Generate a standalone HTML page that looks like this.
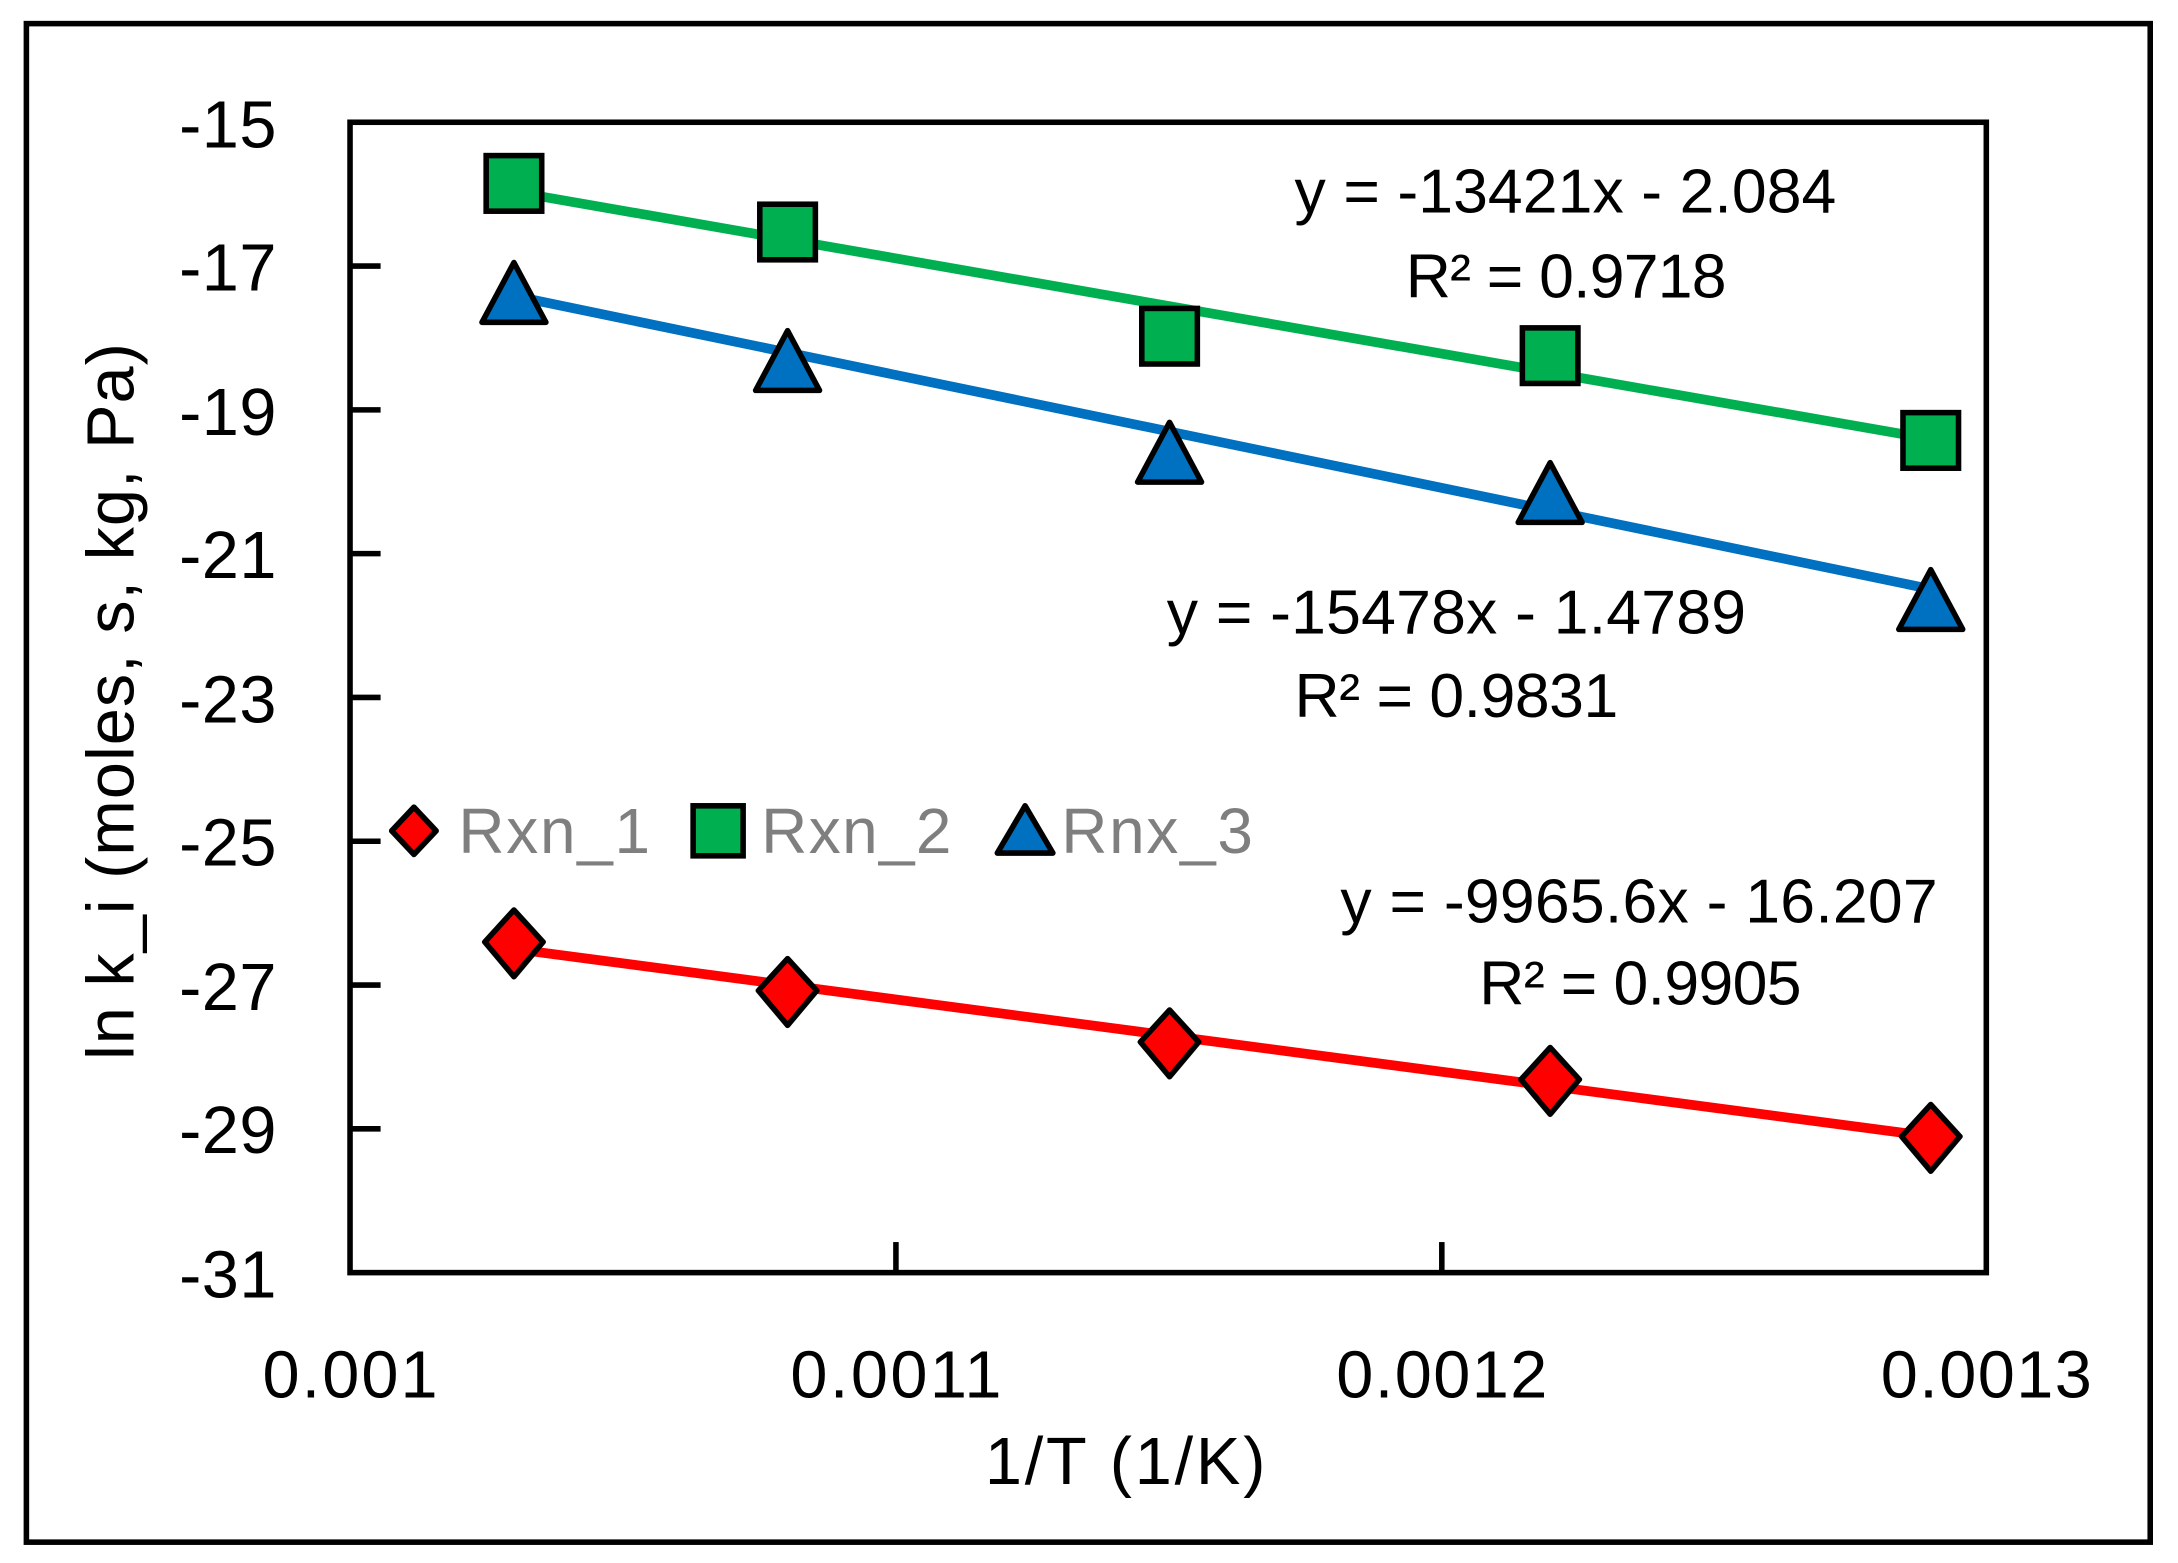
<!DOCTYPE html>
<html><head><meta charset="utf-8"><style>html,body{margin:0;padding:0;background:#fff}svg{display:block}text{font-family:"Liberation Sans",sans-serif;fill:#000}</style></head>
<body>
<svg width="2178" height="1563" viewBox="0 0 1568 1125" preserveAspectRatio="none">
<rect x="0" y="0" width="1568" height="1125" fill="#fff"/>
<rect x="19" y="17" width="1529" height="1093" fill="none" stroke="#000" stroke-width="4"/>
<rect x="252" y="88" width="1178" height="828" fill="none" stroke="#000" stroke-width="4"/>
<g stroke="#000" stroke-width="4">
<line x1="252" y1="191.5" x2="274" y2="191.5"/><line x1="252" y1="295" x2="274" y2="295"/><line x1="252" y1="398.5" x2="274" y2="398.5"/><line x1="252" y1="502" x2="274" y2="502"/><line x1="252" y1="605.5" x2="274" y2="605.5"/><line x1="252" y1="709" x2="274" y2="709"/><line x1="252" y1="812.5" x2="274" y2="812.5"/>
<line x1="645" y1="916" x2="645" y2="894"/><line x1="1038" y1="916" x2="1038" y2="894"/>
</g>
<g font-size="48" text-anchor="end">
<text x="199" y="106" textLength="70">-15</text><text x="199" y="209" textLength="70">-17</text><text x="199" y="313" textLength="70">-19</text><text x="199" y="416" textLength="70">-21</text><text x="199" y="520" textLength="70">-23</text><text x="199" y="623" textLength="70">-25</text><text x="199" y="727" textLength="70">-27</text><text x="199" y="830" textLength="70">-29</text><text x="199" y="934" textLength="70">-31</text>
</g>
<g font-size="48" text-anchor="middle">
<text x="252" y="1006" textLength="126">0.001</text><text x="645" y="1006" textLength="152">0.0011</text><text x="1038" y="1006" textLength="152">0.0012</text><text x="1430" y="1006" textLength="152">0.0013</text>
<text x="810" y="1068" textLength="202">1/T (1/K)</text>
<text transform="translate(96,505) rotate(-90)" textLength="516">ln k_i (moles, s, kg, Pa)</text>
</g>
<line x1="370" y1="138" x2="1390" y2="316" stroke="#00b050" stroke-width="7"/>
<line x1="370" y1="213" x2="1390" y2="424" stroke="#0070c0" stroke-width="7"/>
<line x1="370" y1="683" x2="1390" y2="818" stroke="#ff0000" stroke-width="7"/>
<g fill="#00b050" stroke="#000" stroke-width="4">
<rect x="350" y="112" width="40" height="40"/><rect x="547" y="147" width="40" height="40"/><rect x="822" y="222" width="40" height="40"/><rect x="1096" y="236" width="40" height="40"/><rect x="1370" y="297" width="40" height="40"/>
<rect x="499" y="580" width="36" height="36"/>
</g>
<g fill="#0070c0" stroke="#000" stroke-width="4" stroke-linejoin="round">
<polygon points="370,189 347,232 393,232"/><polygon points="567,238 544,281 590,281"/><polygon points="842,304 819,347 865,347"/><polygon points="1116,333 1093,376 1139,376"/><polygon points="1390,410 1367,453 1413,453"/>
<polygon points="738,580 718,614 758,614"/>
</g>
<g fill="#ff0000" stroke="#000" stroke-width="4" stroke-linejoin="round">
<polygon points="370,655 391,678 370,703 349,678"/><polygon points="567,690 588,713 567,738 546,713"/><polygon points="842,727 863,750 842,775 821,750"/><polygon points="1116,754 1137,777 1116,802 1095,777"/><polygon points="1390,795 1411,818 1390,843 1369,818"/>
<polygon points="298,581 314,598 298,615 282,598"/>
</g>
<g font-size="46">
<text x="330" y="614" textLength="138" style="fill:#7f7f7f">Rxn_1</text>
<text x="548" y="614" textLength="137" style="fill:#7f7f7f">Rxn_2</text>
<text x="764" y="614" textLength="138" style="fill:#7f7f7f">Rnx_3</text>
</g>
<g font-size="45">
<text x="932" y="153" textLength="390">y = -13421x - 2.084</text>
<text x="1012" y="214" textLength="231">R² = 0.9718</text>
<text x="840" y="456" textLength="417">y = -15478x - 1.4789</text>
<text x="932" y="516" textLength="233">R² = 0.9831</text>
<text x="965" y="664" textLength="430">y = -9965.6x - 16.207</text>
<text x="1065" y="723" textLength="232">R² = 0.9905</text>
</g>
</svg>
</body></html>
